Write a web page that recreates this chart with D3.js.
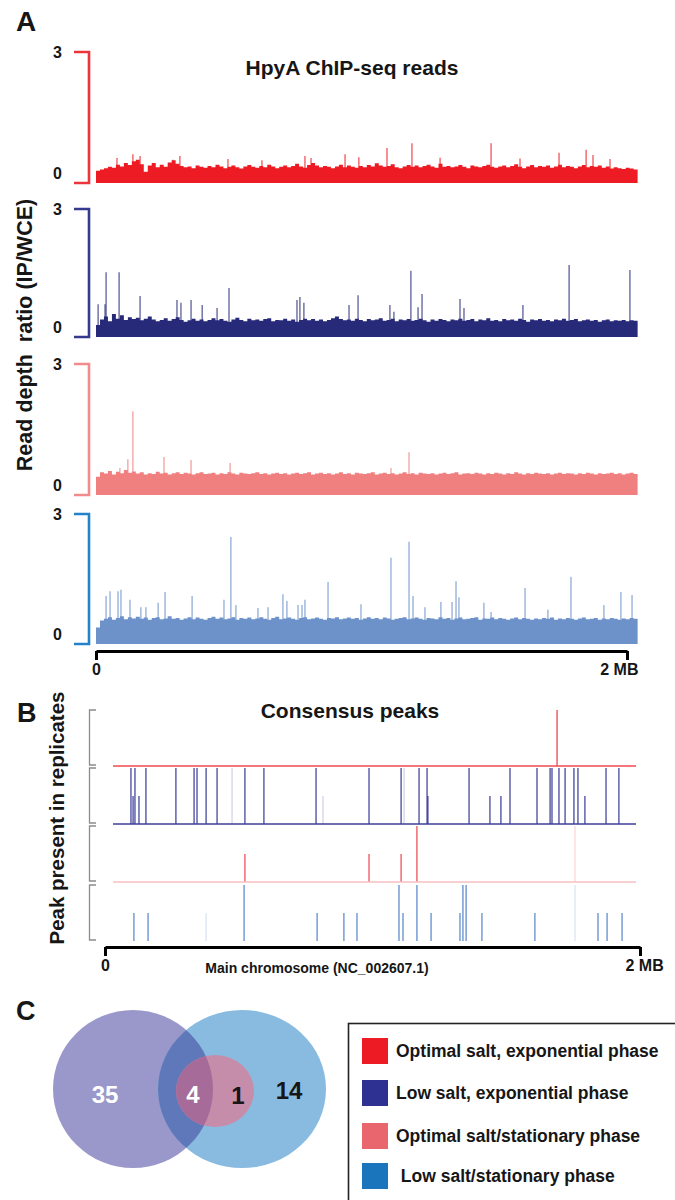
<!DOCTYPE html>
<html><head><meta charset="utf-8">
<script src="https://cdn.jsdelivr.net/npm/d3@7"></script>
<style>
body{margin:0;background:#fff}
svg{display:block;font-family:"Liberation Sans",Arial,Helvetica,sans-serif;font-weight:bold}
</style>
</head><body>
<svg id="c" width="675" height="1200"></svg>
<script>
// ---------------- DATA ----------------
// Panel A: read-depth ratio (IP/WCE), bins of 0.015 MB starting at 0
const binStep = 0.015;
const redLevels = [.28,.31,.34,.37,.35,.42,.38,.46,.41,.50,
 .53,.43,.26,.40,.46,.36,.42,.37,.47,.52,
 .44,.39,.36,.38,.34,.40,.37,.35,.39,.36,
 .42,.38,.34,.37,.40,.36,.33,.38,.41,.37,
 .35,.39,.36,.42,.38,.34,.37,.40,.36,.39,
 .44,.38,.35,.41,.46,.40,.36,.39,.37,.34,
 .38,.42,.36,.40,.37,.35,.39,.36,.41,.38,
 .45,.40,.37,.39,.43,.36,.34,.38,.41,.37,
 .40,.36,.39,.42,.38,.35,.44,.37,.39,.36,
 .38,.41,.37,.34,.40,.38,.36,.39,.42,.37,
 .35,.38,.40,.36,.39,.43,.37,.34,.38,.41,
 .36,.39,.37,.40,.35,.38,.42,.36,.39,.37,
 .34,.38,.41,.36,.39,.37,.40,.35,.38,.33,
 .36,.34,.32,.35,.33,.31];
const redSpikes = [[.079,.57],[.139,.66],[.166,.62],[.29,.53],[.316,.62],[.497,.55],[.625,.52],
 [.787,.62],[.81,.57],[.938,.66],[.99,.59],[1.096,.80],[1.19,.91],[1.296,.58],[1.488,.91],
 [1.597,.56],[1.744,.69],[1.846,.76],[1.872,.64],[1.936,.55]];

const navyLevels = [.28,.41,.48,.37,.54,.43,.51,.40,.46,.42,
 .45,.39,.43,.48,.41,.37,.40,.44,.38,.42,
 .46,.40,.36,.39,.43,.38,.41,.37,.40,.44,
 .39,.42,.38,.36,.41,.45,.40,.37,.43,.39,
 .41,.38,.42,.44,.37,.40,.39,.43,.38,.41,
 .36,.40,.43,.39,.42,.38,.41,.37,.40,.44,
 .48,.42,.39,.41,.38,.43,.40,.37,.42,.39,
 .41,.44,.38,.40,.43,.37,.41,.39,.42,.38,
 .40,.43,.39,.36,.41,.38,.42,.40,.37,.41,
 .39,.43,.38,.40,.42,.37,.41,.39,.44,.38,
 .40,.37,.42,.39,.41,.38,.43,.40,.36,.41,
 .39,.42,.38,.40,.37,.41,.39,.43,.38,.40,
 .42,.37,.39,.41,.38,.40,.36,.39,.41,.37,
 .39,.38,.40,.37,.39,.38];
const navySpikes = [[.008,.77],[.034,.77],[.038,1.52],[.087,1.52],[.166,.96],[.305,.87],[.32,.80],
 [.358,.87],[.40,.75],[.456,.68],[.501,1.15],[.757,.87],[.768,.94],[.783,.80],[.953,.75],
 [.987,.98],[1.107,.75],[1.122,.59],[1.186,1.55],[1.213,.70],[1.228,1.01],[1.371,.89],
 [1.386,.68],[1.608,.75],[1.782,1.69],[2.011,1.57]];

const salmonLevels = [.42,.52,.49,.55,.47,.53,.50,.57,.51,.54,
 .49,.52,.47,.50,.48,.53,.49,.51,.47,.50,
 .52,.48,.51,.49,.47,.50,.52,.48,.49,.51,
 .47,.50,.48,.52,.49,.47,.51,.49,.48,.50,
 .52,.48,.50,.47,.49,.51,.48,.50,.47,.49,
 .51,.48,.50,.52,.47,.49,.51,.48,.50,.47,
 .49,.52,.48,.50,.47,.51,.49,.48,.50,.52,
 .47,.49,.51,.48,.50,.47,.49,.52,.48,.50,
 .47,.51,.49,.48,.50,.47,.49,.51,.48,.50,
 .52,.47,.49,.50,.48,.51,.49,.47,.50,.48,
 .51,.49,.47,.50,.48,.52,.49,.47,.50,.48,
 .51,.49,.48,.50,.47,.49,.51,.48,.50,.49,
 .47,.50,.48,.51,.49,.47,.50,.48,.49,.51,
 .48,.50,.47,.49,.51,.48];
const salmonSpikes = [[.09,.62],[.12,.82],[.139,1.92],[.256,.87],[.358,.80],[.505,.73],
 [1.111,.62],[1.179,.98]];

const blueLevels = [.38,.54,.58,.62,.56,.60,.64,.57,.62,.59,
 .63,.58,.61,.56,.60,.62,.57,.59,.64,.58,
 .60,.56,.59,.62,.57,.61,.58,.56,.60,.63,
 .58,.61,.57,.59,.62,.56,.60,.58,.61,.57,
 .59,.62,.58,.56,.60,.63,.57,.59,.61,.58,
 .56,.60,.62,.57,.59,.61,.58,.56,.60,.59,
 .62,.57,.59,.61,.58,.60,.56,.59,.62,.58,
 .60,.57,.61,.59,.56,.58,.60,.62,.57,.59,
 .61,.58,.56,.60,.59,.57,.62,.58,.60,.56,
 .59,.61,.57,.58,.60,.62,.56,.59,.58,.61,
 .57,.60,.58,.56,.59,.61,.57,.60,.58,.56,
 .59,.57,.60,.58,.61,.56,.59,.57,.60,.58,
 .56,.59,.61,.57,.58,.60,.56,.59,.57,.60,
 .58,.56,.59,.57,.60,.58];
const blueSpikes = [[.038,1.11],[.053,1.22],[.083,1.22],[.094,1.25],[.128,1.02],[.169,.85],[.188,.85],
 [.234,.95],[.26,1.20],[.362,1.11],[.482,1.02],[.508,2.47],[.527,.90],[.61,.83],[.648,.85],
 [.704,1.15],[.719,.99],[.761,.90],[.776,.90],[.787,1.02],[.874,1.43],[.998,.92],[1.111,1.99],
 [1.179,2.36],[1.194,1.11],[1.239,.85],[1.299,.97],[1.341,.97],[1.356,1.45],[1.367,1.08],
 [1.461,.95],[1.488,.74],[1.616,1.29],[1.702,.79],[1.789,1.55],[1.913,.90],[1.977,1.20],[2.019,1.13]];

const axisTicksA = [0, 3];
const genomeTicks = [0, 2];
const genomeTickLabels = ["0", "2 MB"];

// Panel B: consensus peaks, [position MB, fraction of replicates]
const peakSpan = [0.03, 1.985];
const redPeaks = [[1.69, 1]];
const navyPeaks = [[.097,1],[.105,.5],[.112,1],[.127,.5],[.153,1],[.265,1],[.333,1],[.344,1],[.378,1],
 [.419,1],[.523,1],[.594,1],[.789,1],[.987,1],[1.107,1],[1.174,1],[1.204,1],[1.207,.5],[1.361,1],
 [1.439,.5],[1.48,.5],[1.514,1],[1.615,1],[1.664,1],[1.671,1],[1.697,1],[1.72,1],[1.753,1],
 [1.768,1],[1.794,.5],[1.873,1],[1.921,1]];
const navyFaint = [[.475,1],[.815,.5],[1.118,1]];
const pinkPeaks = [[.523,.5],[.987,.5],[1.107,.5],[1.166,1]];
const pinkFaint = [[1.757,1]];
const bluePeaks = [[.108,.5],[.161,.5],[.52,1],[.793,.5],[.893,.5],[.942,.5],[1.099,1],[1.114,.5],
 [1.166,1],[1.219,.5],[1.327,.5],[1.338,1],[1.35,1],[1.409,.5],[1.607,.5],[1.843,.5],[1.877,.5],[1.933,.5]];
const blueFaint = [[.378,.5],[1.757,1]];

// Panel C: Venn counts
const vennCounts = [35, 4, 1, 14];

// Legend
const legendLabels = ["Optimal salt, exponential phase", "Low salt, exponential phase",
  "Optimal salt/stationary phase", " Low salt/stationary phase"];
const legendColors = ["#ED1C24", "#2E3192", "#E9666F", "#1A75BC"];

// ---------------- DRAW ----------------
const svg = d3.select("#c");
const ink = "#161616";

function label(x, y, t, size, opts = {}) {
  return svg.append("text").attr("x", x).attr("y", y).attr("font-size", size)
    .attr("fill", opts.fill || ink).attr("text-anchor", opts.anchor || "start")
    .style("white-space", "pre").text(t);
}

// panel letters
label(16, 31, "A", 28);
label(17, 722, "B", 27);
label(16, 1020, "C", 27);

// ---------- Panel A ----------
label(352, 75, "HpyA ChIP-seq reads", 21, {anchor: "middle"});
svg.append("text").attr("transform", "translate(32,335) rotate(-90)")
  .attr("text-anchor", "middle").attr("font-size", 21.5).attr("fill", ink)
  .style("white-space", "pre").text("Read depth  ratio (IP/WCE)");

const xA = d3.scaleLinear().domain(genomeTicks).range([96, 627]);
const tracksA = [
  {levels: redLevels, spikes: redSpikes, fill: "#ED1C24", axis: "#EE343B", top: 52, base: 183},
  {levels: navyLevels, spikes: navySpikes, fill: "#272A79", axis: "#363A8E", top: 209, base: 337},
  {levels: salmonLevels, spikes: salmonSpikes, fill: "#F08080", axis: "#F28B8B", top: 364, base: 495},
  {levels: blueLevels, spikes: blueSpikes, fill: "#6D92CA", axis: "#2483C8", top: 514, base: 644}
];

tracksA.forEach(t => {
  const y = d3.scaleLinear().domain(axisTicksA).range([t.base, t.top]);
  const g = svg.append("g");
  // bracket axis
  g.append("path").attr("d", `M74,${y(3)}H89V${y(0)}H74`).attr("fill", "none")
    .attr("stroke", t.axis).attr("stroke-width", 2.6);
  g.append("text").attr("x", 62).attr("y", y(3) + 6).attr("text-anchor", "end")
    .attr("font-size", 16).attr("fill", ink).text(axisTicksA[1]);
  g.append("text").attr("x", 62).attr("y", y(0) - 4).attr("text-anchor", "end")
    .attr("font-size", 16).attr("fill", ink).text(axisTicksA[0]);
  // spikes (drawn first, lighter)
  g.selectAll("line.sp").data(t.spikes).join("line")
    .attr("x1", d => xA(d[0])).attr("x2", d => xA(d[0]))
    .attr("y1", y(0)).attr("y2", d => y(d[1]))
    .attr("stroke", t.fill).attr("stroke-width", 1.4).attr("stroke-opacity", 0.7);
  // level area
  const pts = t.levels.map((v, i) => [i * binStep, v]);
  pts.push([t.levels.length * binStep, t.levels[t.levels.length - 1]]);
  const area = d3.area().x(d => xA(d[0])).y0(y(0)).y1(d => y(d[1])).curve(d3.curveStepAfter);
  g.append("path").attr("d", area(pts)).attr("fill", t.fill);
});

// genome axis A
const axA = d3.axisBottom(xA).tickValues(genomeTicks).tickSizeInner(9).tickSizeOuter(0)
  .tickPadding(4).tickFormat((d, i) => genomeTickLabels[i]);
const gA = svg.append("g").attr("transform", "translate(0,651)").call(axA);
gA.attr("font-family", null);
gA.select(".domain").attr("stroke", "#000").attr("stroke-width", 3);
gA.selectAll(".tick line").attr("stroke", "#000").attr("stroke-width", 3);
gA.selectAll(".tick text").attr("font-size", 16).attr("fill", ink).attr("font-weight", "bold");
gA.selectAll(".tick text").filter((d, i) => i === 1).attr("text-anchor", "end").attr("dx", 11);

// ---------- Panel B ----------
label(350, 718, "Consensus peaks", 21, {anchor: "middle"});
svg.append("text").attr("transform", "translate(64,818) rotate(-90)")
  .attr("text-anchor", "middle").attr("font-size", 20.5).attr("fill", ink)
  .text("Peak present in replicates");

const xB = d3.scaleLinear().domain(genomeTicks).range([105, 640]);
const trackH = 56;
const tracksB = [
  {peaks: redPeaks, faint: [], color: "#EF2F37", baseColor: "#F04A51", top: 710},
  {peaks: navyPeaks, faint: navyFaint, color: "#2E3192", baseColor: "#3C3F96", top: 768},
  {peaks: pinkPeaks, faint: pinkFaint, color: "#EF3A42", baseColor: "#F7C0C3", top: 826},
  {peaks: bluePeaks, faint: blueFaint, color: "#4C7EC6", baseColor: null, top: 885}
];
tracksB.forEach(t => {
  const y = d3.scaleLinear().domain([0, 1]).range([t.top + trackH, t.top]);
  const g = svg.append("g");
  g.append("path").attr("d", `M96,${y(1)}H89.5V${y(0) - 1}H96`).attr("fill", "none")
    .attr("stroke", "#8c8c8c").attr("stroke-width", 1.3);
  g.selectAll("line.f").data(t.faint).join("line")
    .attr("x1", d => xB(d[0])).attr("x2", d => xB(d[0]))
    .attr("y1", y(0)).attr("y2", d => y(d[1]))
    .attr("stroke", t.color).attr("stroke-width", 1.5).attr("stroke-opacity", 0.18);
  g.selectAll("line.p").data(t.peaks).join("line")
    .attr("x1", d => xB(d[0])).attr("x2", d => xB(d[0]))
    .attr("y1", y(0)).attr("y2", d => y(d[1]))
    .attr("stroke", t.color).attr("stroke-width", 1.6).attr("stroke-opacity", 0.72);
  if (t.baseColor) {
    g.append("line").attr("x1", xB(peakSpan[0])).attr("x2", xB(peakSpan[1]))
      .attr("y1", y(0)).attr("y2", y(0)).attr("stroke", t.baseColor).attr("stroke-width", 1.4);
  }
});

const axB = d3.axisBottom(xB).tickValues(genomeTicks).tickSizeInner(9).tickSizeOuter(0)
  .tickPadding(4).tickFormat((d, i) => genomeTickLabels[i]);
const gB = svg.append("g").attr("transform", "translate(0,947)").call(axB);
gB.attr("font-family", null);
gB.select(".domain").attr("stroke", "#000").attr("stroke-width", 3);
gB.selectAll(".tick line").attr("stroke", "#000").attr("stroke-width", 3);
gB.selectAll(".tick text").attr("font-size", 16).attr("fill", ink).attr("font-weight", "bold");
gB.selectAll(".tick text").filter((d, i) => i === 1).attr("text-anchor", "start").attr("dx", -15);
label(317, 973, "Main chromosome (NC_002607.1)", 14, {anchor: "middle"});

// ---------- Panel C: Venn ----------
const defs = svg.append("defs");
defs.append("clipPath").attr("id", "purpleClip").append("ellipse")
  .attr("cx", 133).attr("cy", 1089).attr("rx", 80).attr("ry", 79);
const venn = svg.append("g");
venn.append("ellipse").attr("cx", 133).attr("cy", 1089).attr("rx", 80).attr("ry", 79).attr("fill", "#9A98CB");
venn.append("ellipse").attr("cx", 242).attr("cy", 1089).attr("rx", 84).attr("ry", 79).attr("fill", "#89BBE0");
venn.append("ellipse").attr("cx", 242).attr("cy", 1089).attr("rx", 84).attr("ry", 79)
  .attr("fill", "#5F78B9").attr("clip-path", "url(#purpleClip)");
venn.append("ellipse").attr("cx", 215).attr("cy", 1091).attr("rx", 39).attr("ry", 36).attr("fill", "#C68DAB");
venn.append("ellipse").attr("cx", 215).attr("cy", 1091).attr("rx", 39).attr("ry", 36)
  .attr("fill", "#A66B98").attr("clip-path", "url(#purpleClip)");
const vennPos = [[105, 1103, "#fff"], [193, 1103, "#fff"], [238, 1104, ink], [289, 1099, ink]];
vennCounts.forEach((c, i) => label(vennPos[i][0], vennPos[i][1], c, 24, {anchor: "middle", fill: vennPos[i][2]}));

// ---------- Legend ----------
svg.append("rect").attr("x", 348.5).attr("y", 1023.5).attr("width", 400).attr("height", 300)
  .attr("fill", "none").attr("stroke", "#222").attr("stroke-width", 1.6);
const legY = [1038, 1080, 1123, 1163];
legendLabels.forEach((l, i) => {
  svg.append("rect").attr("x", 362).attr("y", legY[i]).attr("width", 26).attr("height", 26)
    .attr("fill", legendColors[i]);
  label(396, legY[i] + 19, l, 17.5);
});
</script>
</body></html>
